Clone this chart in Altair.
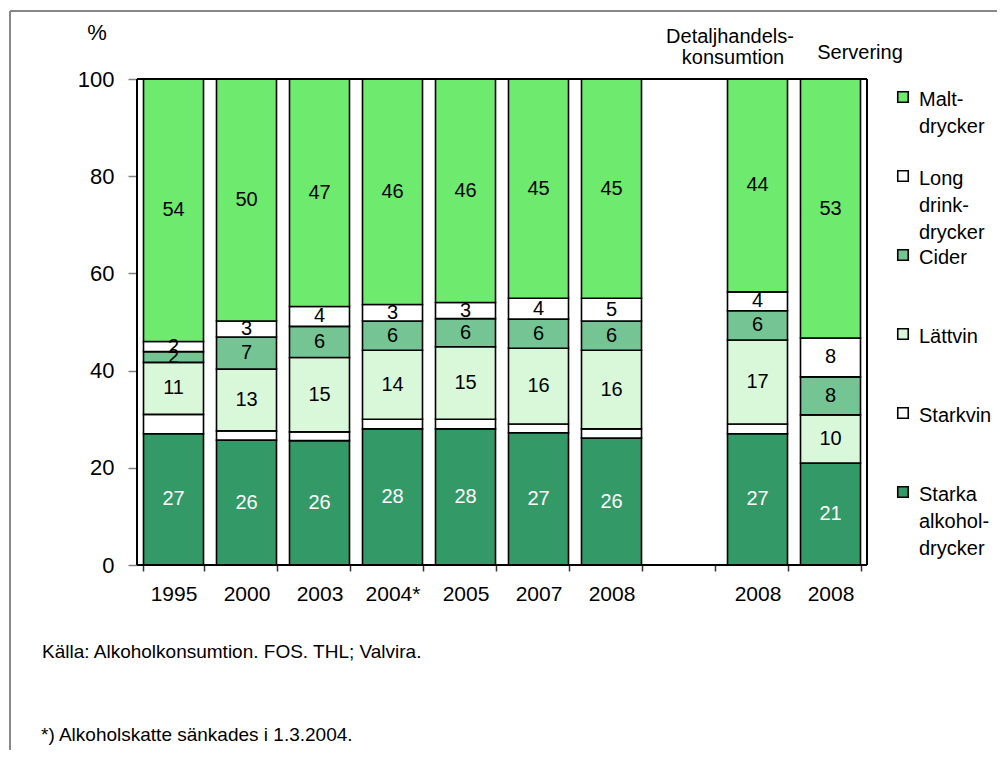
import altair as alt
import pandas as pd

FONT = "Liberation Sans"

# ---- data (percent shares) ----
slots = ["1995", "2000", "2003", "2004*", "2005", "2007", "2008", "gap", "2008D", "2008S"]
bar_slots = ["1995", "2000", "2003", "2004*", "2005", "2007", "2008", "2008D", "2008S"]
series = ["Starka alkoholdrycker", "Starkvin", "Lättvin", "Cider", "Long drinkdrycker", "Maltdrycker"]
legend_labels = ["Starka|alkohol-|drycker", "Starkvin", "Lättvin", "Cider", "Long|drink-|drycker", "Malt-|drycker"]
colors = ["#339966", "#ffffff", "#d9f7d9", "#74c494", "#ffffff", "#6eea6e"]

starka = [27.0, 25.7, 25.6, 28.0, 28.0, 27.2, 26.1, 27.0, 21.0]
starkvin = [4.0, 1.9, 1.8, 2.0, 2.0, 1.8, 1.9, 2.0, 0.0]
lattvin = [10.7, 12.7, 15.3, 14.2, 14.9, 15.6, 16.2, 17.3, 9.9]
cider = [2.2, 6.6, 6.4, 6.0, 5.8, 6.0, 6.0, 6.0, 7.8]
longdrink = [2.1, 3.3, 4.1, 3.4, 3.3, 4.3, 4.7, 3.9, 8.0]
malt = [54.0, 49.8, 46.8, 46.4, 46.0, 45.1, 45.1, 43.8, 53.3]

values_by_series = [starka, starkvin, lattvin, cider, longdrink, malt]
rows = []
for k, (name, vals) in enumerate(zip(series, values_by_series)):
    for slot, v in zip(bar_slots, vals):
        rows.append({"slot": slot, "series": name, "order": k, "value": v})
df = pd.DataFrame(rows)

W, H = 730, 486
xscale = alt.Scale(domain=slots, paddingInner=0.178, paddingOuter=0.089)
yscale = alt.Scale(domain=[0, 100], nice=False)
cscale = alt.Scale(domain=series, range=colors)

label_expr = ("datum.label == 'gap' ? '' : "
              "(datum.label == '2008D' || datum.label == '2008S' ? '2008' : datum.label)")

base = alt.Chart(df).transform_stack(
    stack="value", groupby=["slot"], as_=["y0", "y1"],
    sort=[alt.SortField("order", order="ascending")],
)

bars = base.mark_bar(stroke="black", strokeWidth=1.6).encode(
    x=alt.X("slot:N", scale=xscale, title=None, sort=slots,
            axis=alt.Axis(labelExpr=label_expr, labelAngle=0, tickBand="extent",
                          tickSize=6, tickColor="#333333", tickWidth=1.5,
                          labelFont=FONT, labelFontSize=21, labelColor="black",
                          labelPadding=12, domain=False)),
    y=alt.Y("y0:Q", scale=yscale, title=None,
            axis=alt.Axis(values=[0, 20, 40, 60, 80, 100], tickSize=9,
                          tickColor="#808080", tickWidth=1.5, labelFont=FONT,
                          labelFontSize=22, labelColor="black", labelPadding=14,
                          domain=False, grid=False)),
    y2="y1:Q",
    fill=alt.Fill("series:N", scale=cscale, legend=None),
)

seg_labels = base.transform_filter(
    "datum.series != 'Starkvin' && datum.value > 0"
).transform_calculate(mid="(datum.y0 + datum.y1) / 2").mark_text(
    font=FONT, fontSize=20, baseline="middle", align="center"
).encode(
    x=alt.X("slot:N", scale=xscale, sort=slots),
    y=alt.Y("mid:Q", scale=yscale),
    text=alt.Text("value:Q", format=".0f"),
    color=alt.condition("datum.series == 'Starka alkoholdrycker'",
                        alt.value("white"), alt.value("black")),
)

# ---- legend (built from the same colour scale) ----
leg_df = pd.DataFrame({
    "series": series[::-1],
    "label": legend_labels[::-1],
    "i": list(range(len(series))),
})
leg = alt.Chart(leg_df).transform_calculate(py="18 + 79 * datum.i", ty="11 + 79 * datum.i")
leg_sq = leg.mark_square(size=110, stroke="black", strokeWidth=1.6, opacity=1).encode(
    x=alt.value(766),
    y=alt.Y("py:Q", scale=None),
    fill=alt.Fill("series:N", scale=cscale, legend=None),
)
leg_txt = leg.mark_text(font=FONT, fontSize=20, align="left", baseline="top",
                        lineBreak="|", lineHeight=27, color="black").encode(
    x=alt.value(782),
    y=alt.Y("ty:Q", scale=None),
    text="label:N",
)

# ---- annotations ----
one = pd.DataFrame({"a": [0]})


def note(text, x, y, align="center", size=20):
    return alt.Chart(one).mark_text(text=text, font=FONT, fontSize=size, align=align,
                                    baseline="middle", color="black").encode(
        x=alt.value(x), y=alt.value(y))


notes = [
    note("%", -40, -46, size=22),
    note("Detaljhandels-", 593, -42),
    note("konsumtion", 596, -21),
    note("Servering", 723, -26),
    note("Källa: Alkoholkonsumtion. FOS. THL; Valvira.", -95, 573, align="left", size=19),
    note("*) Alkoholskatte sänkades i 1.3.2004.", -96, 656, align="left", size=19),
]


def rule(color, width, **enc):
    return alt.Chart(one).mark_rule(color=color, strokeWidth=width).encode(**enc)


frames = [
    # outer grey border of the figure
    rule("#888888", 2, x=alt.value(-127), y=alt.value(-68), y2=alt.value(680)),
    rule("#888888", 2, x=alt.value(-127), x2=alt.value(880), y=alt.value(-68)),
    # plot-area frame
    rule("black", 2, x=alt.value(0), x2=alt.value(W), y=alt.value(0)),
    rule("black", 2, x=alt.value(0), x2=alt.value(W), y=alt.value(H)),
    rule("black", 2, x=alt.value(0), y=alt.value(0), y2=alt.value(H)),
    rule("black", 2, x=alt.value(W), y=alt.value(0), y2=alt.value(H)),
]

chart = alt.layer(
    *frames[:2], bars, seg_labels, *frames[2:], leg_sq, leg_txt, *notes
).properties(
    width=W, height=H,
    autosize=alt.AutoSizeParams(type="none"),
    padding={"left": 129, "top": 71, "right": 130, "bottom": 185},
).configure_view(
    stroke=None
).configure(background="white")

chart.save("out.html", embed_options={"renderer": "svg", "actions": False})
